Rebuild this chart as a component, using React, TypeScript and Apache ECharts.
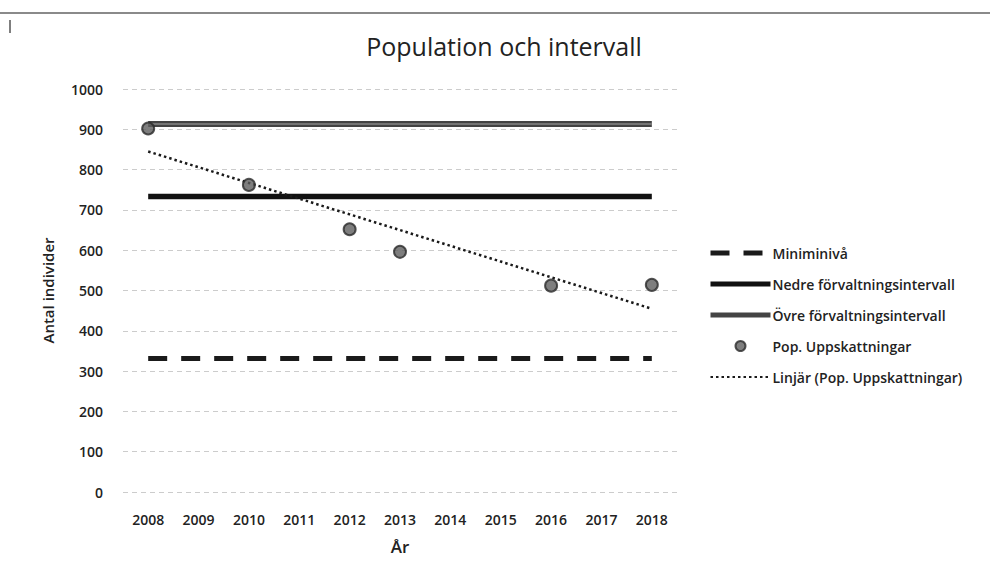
import React, { useEffect, useRef } from "react";
import * as echarts from "echarts";

const years = ["2008", "2009", "2010", "2011", "2012", "2013", "2014", "2015", "2016", "2017", "2018"];
const miniminiva = [331, 331, 331, 331, 331, 331, 331, 331, 331, 331, 331];
const nedre = [733, 733, 733, 733, 733, 733, 733, 733, 733, 733, 733];
const ovre = [913, 913, 913, 913, 913, 913, 913, 913, 913, 913, 913];
const popYears = ["2008", "2010", "2012", "2013", "2016", "2018"];
const popValues = [902, 762, 652, 596, 512, 514];

const FONT = "'Open Sans', 'Noto Sans', sans-serif";

function trendLine(): (number | null)[] {
  const xs = popYears.map((y) => years.indexOf(y));
  const n = xs.length;
  const mx = xs.reduce((a, b) => a + b, 0) / n;
  const my = popValues.reduce((a, b) => a + b, 0) / n;
  let sxy = 0, sxx = 0;
  xs.forEach((x, i) => { sxy += (x - mx) * (popValues[i] - my); sxx += (x - mx) * (x - mx); });
  const slope = sxy / sxx;
  return years.map((_, i) => my + slope * (i - mx));
}

export default function App() {
  const ref = useRef<HTMLDivElement>(null);
  useEffect(() => {
    document.body.style.margin = "0";
    const chart = echarts.init(ref.current!, null, { renderer: "svg" });
    const popData = years.map((y) => {
      const i = popYears.indexOf(y);
      return i >= 0 ? popValues[i] : null;
    });
    const hidden = { opacity: 0 };
    chart.setOption({
      animation: false,
      backgroundColor: "#ffffff",
      title: {
        text: "Population och intervall",
        left: 499,
        textAlign: "center",
        top: 28,
        textStyle: { fontFamily: FONT, fontSize: 25, fontWeight: "normal", color: "#222" },
      },
      graphic: [
        { type: "line", shape: { x1: 0, y1: 13, x2: 990, y2: 13 }, style: { stroke: "#8a8a8a", lineWidth: 2 } },
        { type: "line", shape: { x1: 10, y1: 20, x2: 10, y2: 33 }, style: { stroke: "#555", lineWidth: 1.5 } },
      ],
      grid: { left: 123, right: 313, top: 89, height: 403 },
      legend: {
        orient: "vertical",
        left: 708,
        top: 246,
        padding: 0,
        itemWidth: 60,
        itemHeight: 10,
        itemGap: 17,
        textStyle: { fontFamily: FONT, fontSize: 14, fontWeight: 600, color: "#222", padding: [0, 0, 0, -3] },
        data: [
          { name: "Miniminivå", itemStyle: hidden, lineStyle: { width: 5, type: [19, 14], color: "#1a1a1a" } },
          { name: "Nedre förvaltningsintervall", itemStyle: hidden, lineStyle: { width: 5, color: "#111" } },
          { name: "Övre förvaltningsintervall", itemStyle: hidden, lineStyle: { width: 5, color: "#444" } },
          { name: "Pop. Uppskattningar", icon: "circle" },
          { name: "Linjär (Pop. Uppskattningar)", itemStyle: hidden, lineStyle: { width: 2, type: [2.5, 3], color: "#1a1a1a" } },
        ],
      },
      xAxis: {
        type: "category",
        data: years,
        boundaryGap: true,
        name: "År",
        nameLocation: "middle",
        nameGap: 46,
        nameTextStyle: { fontFamily: FONT, fontSize: 17, fontWeight: 600, color: "#222" },
        axisLine: { show: false },
        axisTick: { show: false },
        axisLabel: { fontFamily: FONT, fontSize: 14, fontWeight: 600, color: "#222", margin: 20 },
      },
      yAxis: {
        type: "value",
        min: 0,
        max: 1000,
        interval: 100,
        name: "Antal individer",
        nameLocation: "middle",
        nameGap: 68,
        nameTextStyle: { fontFamily: FONT, fontSize: 15, fontWeight: 600, color: "#222" },
        axisLine: { show: false },
        axisTick: { show: false },
        axisLabel: {
          fontFamily: FONT, fontSize: 14, fontWeight: 600, color: "#222", margin: 20,
          formatter: (v: number) => String(v),
        },
        splitLine: { lineStyle: { color: "#cccccc", width: 1.2, type: [5, 4] } },
      },
      series: [
        {
          name: "Miniminivå",
          type: "line",
          data: miniminiva,
          symbol: "none",
          lineStyle: { color: "#1a1a1a", width: 5, type: [19, 14] },
          itemStyle: { color: "#1a1a1a" },
        },
        {
          name: "Nedre förvaltningsintervall",
          type: "line",
          data: nedre,
          symbol: "none",
          lineStyle: { color: "#111", width: 5.5 },
          itemStyle: { color: "#111" },
        },
        {
          name: "Övre förvaltningsintervall",
          type: "line",
          data: ovre,
          symbol: "none",
          lineStyle: { color: "#444", width: 6 },
          itemStyle: { color: "#444" },
        },
        {
          name: "Övre inner",
          type: "line",
          data: ovre,
          symbol: "none",
          silent: true,
          lineStyle: { color: "#858585", width: 1.5 },
          itemStyle: { color: "#858585" },
        },
        {
          name: "Linjär (Pop. Uppskattningar)",
          type: "line",
          data: trendLine(),
          symbol: "none",
          lineStyle: { color: "#1a1a1a", width: 2.5, type: [2.5, 3] },
          itemStyle: { color: "#1a1a1a" },
          z: 3,
        },
        {
          name: "Pop. Uppskattningar",
          type: "scatter",
          data: popData,
          symbol: "circle",
          symbolSize: 12,
          itemStyle: { color: "#5e5e5e", borderColor: "#2a2a2a", borderWidth: 2 },
          z: 4,
        },
      ],
    });
    return () => chart.dispose();
  }, []);
  return <div ref={ref} style={{ width: 990, height: 576 }} />;
}
